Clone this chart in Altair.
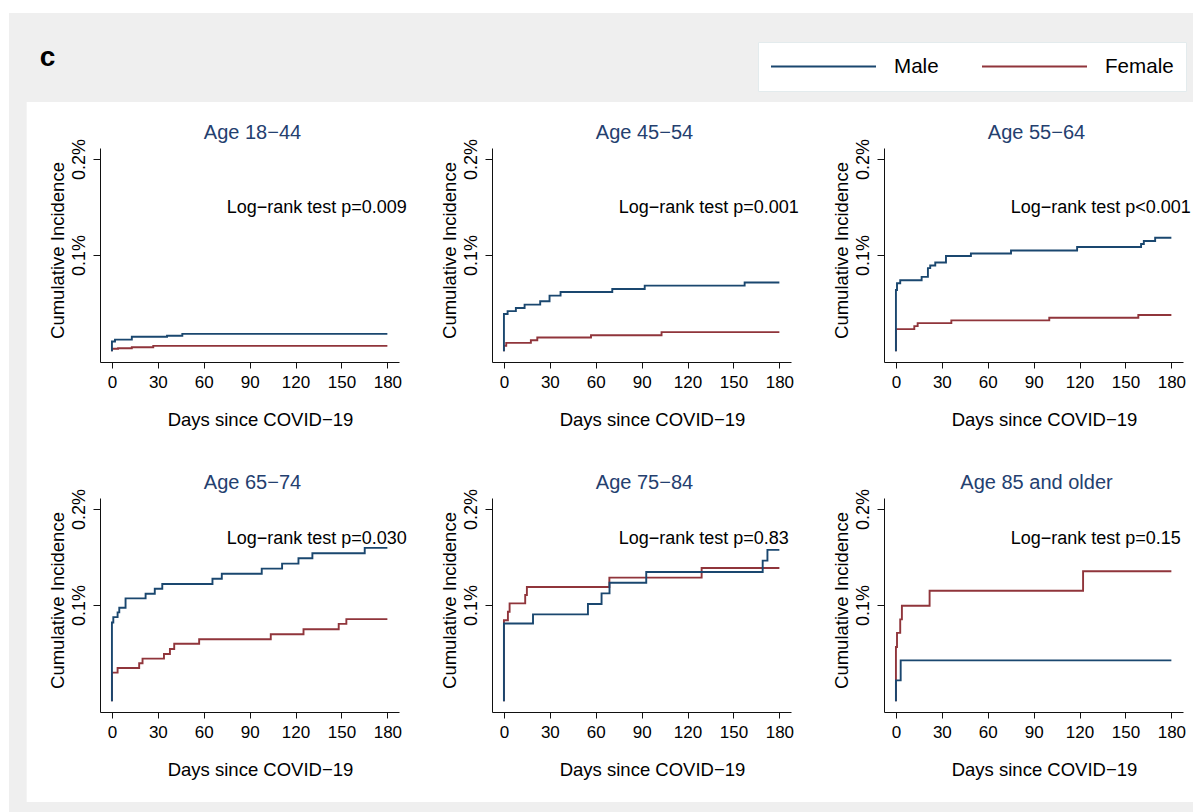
import altair as alt
import pandas as pd

FONT = "Liberation Sans"
TITLE_COLOR = "#24406f"
MALE_COLOR = "#1a476f"
FEMALE_COLOR = "#90353b"

panel_titles = ["Age 18−44", "Age 45−54", "Age 55−64",
                "Age 65−74", "Age 75−84", "Age 85 and older"]
p_values = ["p=0.009", "p=0.001", "p<0.001", "p=0.030", "p=0.83", "p=0.15"]

male_days = [
    [0, 0, 2, 13, 36, 46, 180],
    [0, 0, 2.4, 7.8, 13.5, 23.7, 29.8, 37, 70.8, 92, 157.3, 180],
    [0, 0, 0.7, 2.8, 16.8, 20.9, 22.4, 25.7, 32.7, 49, 75.2, 118.4, 160.2, 162, 169.4, 180],
    [0, 0, 0.9, 3.7, 4.8, 8.9, 22, 28, 32.9, 65.7, 71.8, 97.9, 111.2, 121.9, 131, 165.2, 180],
    [0, 0, 19, 54.9, 63.8, 69, 93, 169.1, 172.2, 180],
    [0, 0, 3.1, 180],
]
male_vals = [
    [0, 0.010, 0.012, 0.015, 0.016, 0.018, 0.018],
    [0, 0.0386, 0.0417, 0.0449, 0.0484, 0.0519, 0.0578, 0.0616, 0.0647, 0.0682, 0.0714, 0.0714],
    [0, 0.0637, 0.0707, 0.0738, 0.0773, 0.0864, 0.0891, 0.0923, 0.099, 0.1017, 0.1048, 0.1084, 0.1115, 0.1146, 0.1181, 0.1181],
    [0, 0.0819, 0.0875, 0.0924, 0.0972, 0.107, 0.1118, 0.117, 0.122, 0.1275, 0.1327, 0.138, 0.1432, 0.1488, 0.154, 0.1596, 0.1596],
    [0, 0.0809, 0.0903, 0.1011, 0.1122, 0.1233, 0.1345, 0.1463, 0.1575, 0.1575],
    [0, 0.0216, 0.0425, 0.0425],
]
female_days = [
    [0, 0, 4, 13, 27, 180],
    [0, 0, 1.5, 17.6, 21.8, 56.9, 103, 180],
    [0, 0, 12, 14.2, 36.2, 100.2, 158.4, 180],
    [0, 0, 3.7, 17.8, 20, 34, 37.9, 40.7, 57, 103.8, 125.2, 148.2, 153.2, 180],
    [0, 0, 2.6, 3.7, 13.9, 15, 68.9, 129.2, 180],
    [0, 0, 0.7, 2.8, 3.9, 22, 122.3, 180],
]
female_vals = [
    [0, 0.0025, 0.003, 0.004, 0.0055, 0.0055],
    [0, 0.0055, 0.0086, 0.0114, 0.0142, 0.0166, 0.0198, 0.0198],
    [0, 0.0229, 0.026, 0.0292, 0.032, 0.0347, 0.0376, 0.0376],
    [0, 0.0297, 0.0345, 0.0394, 0.0443, 0.0491, 0.0543, 0.0598, 0.0645, 0.0697, 0.0749, 0.0805, 0.0854, 0.0854],
    [0, 0.0843, 0.093, 0.1018, 0.1105, 0.1188, 0.1286, 0.1387, 0.1387],
    [0, 0.0564, 0.0711, 0.0851, 0.0993, 0.1149, 0.1352, 0.1352],
]

x_ticks = [0, 30, 60, 90, 120, 150, 180]
y_ticks = [0.1, 0.2]
sexes = ["Male", "Female"]

ann_day = 75
ann_inc = [0.149, 0.149, 0.149, 0.169, 0.169, 0.169]

x_scale = alt.Scale(domain=[-7.8, 187.6], nice=False, zero=False)
y_scale = alt.Scale(domain=[-0.0113, 0.2115], nice=False, zero=False)

x_axis = alt.Axis(values=x_ticks, format="d", grid=False, domainColor="#111", domainWidth=1,
                  tickColor="#111", tickSize=6, tickWidth=1, labelFont=FONT, labelFontSize=17,
                  labelColor="black", labelPadding=6, labelFlush=False, labelOverlap=False,
                  title="Days since COVID−19", titleFont=FONT, titleFontSize=18.5,
                  titleFontWeight="normal", titleColor="black", titlePadding=20,
                  titleX=160, zindex=1)
y_axis = alt.Axis(values=y_ticks, labelExpr="format(datum.value, '.1f') + '%'", grid=False,
                  domainColor="#111", domainWidth=1, tickColor="#111", tickSize=7, tickWidth=1,
                  labelFont=FONT, labelFontSize=18, labelColor="black", labelAngle=270,
                  labelAlign="center", labelBaseline="bottom", labelPadding=5,
                  labelOverlap=False, labelFlush=False,
                  title="Cumulative Incidence", titleFont=FONT, titleFontSize=18.5,
                  titleFontWeight="normal", titleColor="black", titlePadding=3,
                  titleY=102, zindex=1)

color = alt.Color("sex:N",
                  scale=alt.Scale(domain=sexes, range=[MALE_COLOR, FEMALE_COLOR]),
                  legend=alt.Legend(title=None, orient="none", legendX=658, legendY=-106,
                                    direction="horizontal", symbolType="stroke",
                                    symbolSize=11025, symbolStrokeWidth=2, clipHeight=25,
                                    labelFont=FONT, labelFontSize=20.6, labelColor="black",
                                    labelOffset=17, columnPadding=42, padding=12,
                                    fillColor="white", strokeColor="#e3ebed",
                                    labelExpr="datum.label == 'Female' ? 'Female\u00a0\u00a0' : datum.label"))


def panel(i):
    layers = []
    one = alt.Chart(pd.DataFrame({"label": [panel_titles[i]]}))
    if i == 0:
        layers.append(one.mark_rect(color="#efefef").encode(
            x=alt.value(-91), x2=alt.value(1093), y=alt.value(-135), y2=alt.value(664)))
        layers.append(one.mark_rect(color="white").encode(
            x=alt.value(-73.3), x2=alt.value(1093), y=alt.value(-46), y2=alt.value(654)))
        layers.append(one.mark_text(text="c", font=FONT, fontSize=28, fontWeight="bold",
                                    color="black", align="center", baseline="alphabetic").encode(
            x=alt.value(-52.5), y=alt.value(-82.3)))
    # panel title
    layers.append(one.mark_text(font=FONT, fontSize=20, color=TITLE_COLOR, align="center",
                                baseline="alphabetic").encode(
        x=alt.value(152.5), y=alt.value(-9), text="label:N"))
    for sex, days, vals in (("Female", female_days[i], female_vals[i]),
                            ("Male", male_days[i], male_vals[i])):
        df = pd.DataFrame({"day": days, "inc": vals, "sex": sex, "idx": list(range(len(days)))})
        layers.append(alt.Chart(df).mark_line(interpolate="step-after", strokeWidth=1.9).encode(
            x=alt.X("day:Q", scale=x_scale, axis=x_axis),
            y=alt.Y("inc:Q", scale=y_scale, axis=y_axis),
            color=color,
            order=alt.Order("idx:Q"),
        ))
    ann = pd.DataFrame({"day": [ann_day], "inc": [ann_inc[i]],
                        "label": ["Log−rank test " + p_values[i]]})
    layers.append(alt.Chart(ann).mark_text(align="left", baseline="middle", font=FONT,
                                           fontSize=18, color="black").encode(
        x=alt.X("day:Q", scale=x_scale, axis=x_axis),
        y=alt.Y("inc:Q", scale=y_scale, axis=y_axis),
        text="label:N"))
    return alt.layer(*layers).properties(width=299, height=214)


chart = alt.concat(*[panel(i) for i in range(6)], columns=3,
                   spacing={"row": 136, "column": 93}, bounds="flush",
                   padding={"left": 1, "top": 5, "right": 0, "bottom": 0},
                   background="white").configure_view(strokeWidth=0)

chart.save("out.html", embed_options={"renderer": "svg", "actions": False})
